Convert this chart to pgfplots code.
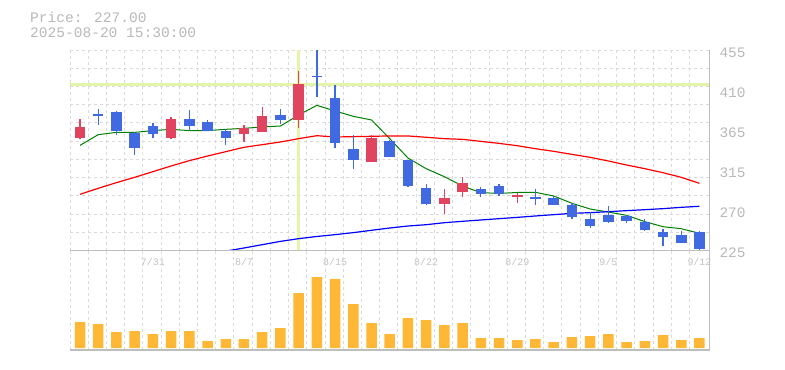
\documentclass[border=0pt]{standalone}
\usepackage{pgfplots}
\pgfplotsset{compat=1.18}
\usepackage{pgfplotstable}
\usepackage{fontspec}
\setmainfont{Liberation Mono}
\definecolor{cRed}{RGB}{224,68,94}
\definecolor{cBlue}{RGB}{65,105,225}
\definecolor{cVol}{RGB}{255,184,54}
\definecolor{cGrid}{RGB}{218,218,218}
\definecolor{cAxis}{RGB}{190,190,190}
\definecolor{cText}{RGB}{185,185,185}
\definecolor{cDate}{RGB}{195,195,195}
\definecolor{cCross}{RGB}{226,245,170}

% up candles (red): i open high low close
\pgfplotstableread{
i o h l c
0 354.5 375.9 353.0 366.8
5 354.1 378.2 353.0 375.9
9 359.1 369.1 350.0 365.2
10 361.4 389.7 360.6 379.4
12 375.2 430.9 366.0 416.4
16 327.0 357.6 327.0 354.1
20 278.9 295.7 267.4 285.4
21 292.7 309.5 286.9 302.6
24 287.4 291.5 280.0 288.8
}\upc
% down candles (blue)
\pgfplotstableread{
i o h l c
1 381.8 387.4 369.1 379.9
2 384.0 385.1 357.6 362.6
3 360.3 361.4 334.7 343.1
4 367.9 371.3 354.5 359.1
6 375.9 386.6 362.2 368.3
7 372.5 374.8 362.6 362.6
8 362.2 364.5 346.1 354.5
11 380.5 387.4 370.2 374.8
13 425.6 455.0 401.5 423.7
14 400.0 414.9 343.1 348.8
15 341.6 357.6 319.0 329.3
17 350.7 351.9 332.8 332.8
18 329.3 329.3 298.4 299.5
19 296.9 301.4 277.7 278.9
22 295.7 298.0 286.9 290.4
23 299.1 301.4 288.1 290.4
25 286.9 296.1 277.7 284.6
26 285.8 288.1 277.7 277.7
27 277.7 280.0 261.7 264.0
28 261.3 269.7 251.4 253.7
29 266.3 276.6 257.1 258.3
30 265.2 266.3 257.1 259.4
31 257.9 261.3 248.0 248.7
32 246.4 249.9 230.8 241.1
33 243.0 247.6 233.4 234.2
34 246.4 247.6 225.0 227.0
}\downc
% moving averages
\pgfplotstableread{
i ma
0 345.7
1 358.0
2 360.6
3 360.6
4 362.6
5 364.1
6 362.6
7 362.6
8 364.1
9 365.2
10 366.8
11 367.9
12 380.5
13 391.6
14 385.1
15 379.0
16 374.8
17 353.4
18 331.2
19 319.0
20 309.8
21 299.1
22 291.5
23 290.7
24 291.7
25 291.9
26 287.7
27 279.3
28 272.8
29 269.3
30 265.5
31 258.3
32 252.5
33 250.2
34 244.9
}\maShort
\pgfplotstableread{
i ma
0 289.6
1 296.5
2 303.0
3 309.1
4 315.6
5 322.1
6 328.2
7 333.5
8 338.5
9 343.5
10 346.5
11 349.6
12 353.4
13 356.8
14 355.3
15 355.7
16 356.1
17 356.5
18 356.5
19 355.0
20 353.4
21 352.6
22 350.3
23 348.0
24 345.3
25 341.9
26 338.9
27 335.4
28 332.0
29 327.8
30 323.2
31 319.0
32 314.4
33 309.1
34 302.2
}\maMid
\pgfplotstableread{
i ma
8 224.5
9 228.1
10 231.9
11 235.7
12 238.8
13 241.3
14 243.4
15 245.7
16 248.4
17 251.0
18 253.3
19 254.8
20 257.1
21 258.7
22 260.2
23 261.7
24 263.2
25 264.8
26 266.3
27 267.8
28 268.6
29 269.7
30 270.9
31 272.0
32 273.2
33 274.7
34 275.9
}\maLong
% volume (relative units)
\pgfplotstableread{
i v
0 26
1 24
2 16
3 17
4 14
5 17
6 17
7 7
8 9
9 9
10 16
11 20
12 55
13 71
14 69
15 44
16 25
17 14
18 30
19 28
20 23
21 25
22 10
23 10
24 8
25 9
26 6
27 11
28 12
29 14
30 6
31 7
32 13
33 8
34 10
}\vol

\begin{document}
\begin{tikzpicture}
\path[fill=white, use as bounding box] (0bp,0bp) rectangle (785bp,-370bp);
\node[anchor=base west, inner sep=0pt, text=cText, font=\fontsize{14.6}{15}\selectfont] at (30bp,-22.7bp) {Price: 227.00};
\node[anchor=base west, inner sep=0pt, text=cText, font=\fontsize{14.6}{15}\selectfont] at (30bp,-37.7bp) {2025-08-20 15:30:00};

\begin{axis}[name=price, at={(70bp,-50bp)}, anchor=north west,
  scale only axis, width=639.3bp, height=200.7bp,
  xmin=-0.55, xmax=34.54, ymin=225, ymax=455,
  axis line style={draw=none},
  major tick length=0pt,
  xtick={-0.55,0.45,...,33.46}, xticklabels={},
  ytick={225,245.909,266.818,287.727,308.636,329.545,350.455,371.364,392.273,413.182,434.091,455},
  yticklabels={},
  xmajorgrids, ymajorgrids,
  grid style={cGrid, line width=1bp, dash pattern=on 3bp off 3bp},
  extra x ticks={4,9,14,19,24,29,34},
  extra x tick labels={7/31,8/7,8/15,8/22,8/29,9/5,9/12},
  extra x tick style={grid=none},
  extra y ticks={225,271,317,363,409,455},
  extra y tick labels={225,270,315,365,410,455},
  extra y tick style={grid=none},
  yticklabel pos=right,
  xticklabel style={font=\fontsize{10}{10}\selectfont, text=cDate, anchor=north, inner sep=0pt, yshift=-7bp},
  yticklabel style={font=\fontsize{14.5}{14.5}\selectfont, text=cText, anchor=west, inner sep=0pt, xshift=10bp, yshift=-2.5bp},
  clip=true,
]
% crosshair
\addplot[cCross, line width=3bp] coordinates {(-0.55,415.7) (34.54,415.7)};
\addplot[cCross, line width=3bp] coordinates {(12,225) (12,455)};
% moving averages
\addplot[color={rgb,255:red,0;green,128;blue,0}, line width=1bp] table[x=i, y=ma]{\maShort};
\addplot[color={rgb,255:red,255;green,0;blue,0}, line width=1.2bp] table[x=i, y=ma]{\maMid};
\addplot[color={rgb,255:red,0;green,0;blue,255}, line width=1.2bp] table[x=i, y=ma]{\maLong};
% wicks
\addplot[draw=none, no markers, error bars/.cd, y dir=both, y explicit, error mark=none,
  error bar style={draw=cRed, line width=1.3bp}]
  table[x=i, y expr={(\thisrow{h}+\thisrow{l})/2}, y error expr={(\thisrow{h}-\thisrow{l})/2}]{\upc};
\addplot[draw=none, no markers, error bars/.cd, y dir=both, y explicit, error mark=none,
  error bar style={draw=cBlue, line width=1.3bp}]
  table[x=i, y expr={(\thisrow{h}+\thisrow{l})/2}, y error expr={(\thisrow{h}-\thisrow{l})/2}]{\downc};
% bodies
\addplot[draw=none, no markers, error bars/.cd, y dir=both, y explicit, error mark=none,
  error bar style={draw=cRed, line width=10.5bp}]
  table[x=i, y expr={(\thisrow{o}+\thisrow{c})/2}, y error expr={abs(\thisrow{c}-\thisrow{o})/2}]{\upc};
\addplot[draw=none, no markers, error bars/.cd, y dir=both, y explicit, error mark=none,
  error bar style={draw=cBlue, line width=10.5bp}]
  table[x=i, y expr={(\thisrow{o}+\thisrow{c})/2}, y error expr={abs(\thisrow{c}-\thisrow{o})/2}]{\downc};
\end{axis}

\begin{axis}[name=vol, at={(70bp,-350bp)}, anchor=south west,
  scale only axis, width=639.3bp, height=99bp,
  xmin=-0.55, xmax=34.54, ymin=-2, ymax=97,
  axis line style={draw=none},
  major tick length=0pt,
  xtick={-0.55,0.45,...,33.46}, xticklabels={},
  ytick=\empty,
  xmajorgrids,
  grid style={cGrid, line width=1bp, dash pattern=on 3bp off 3bp},
]
\addplot[ybar, bar width=10.5bp, fill=cVol, draw=none] table[x=i, y=v]{\vol};
\end{axis}

\draw[cAxis, line width=1.5bp] (price.south west) -- (price.south east);
\draw[cAxis, line width=1.5bp] (vol.south west) -- (vol.south east) -- (price.north east);
\end{tikzpicture}
\end{document}
